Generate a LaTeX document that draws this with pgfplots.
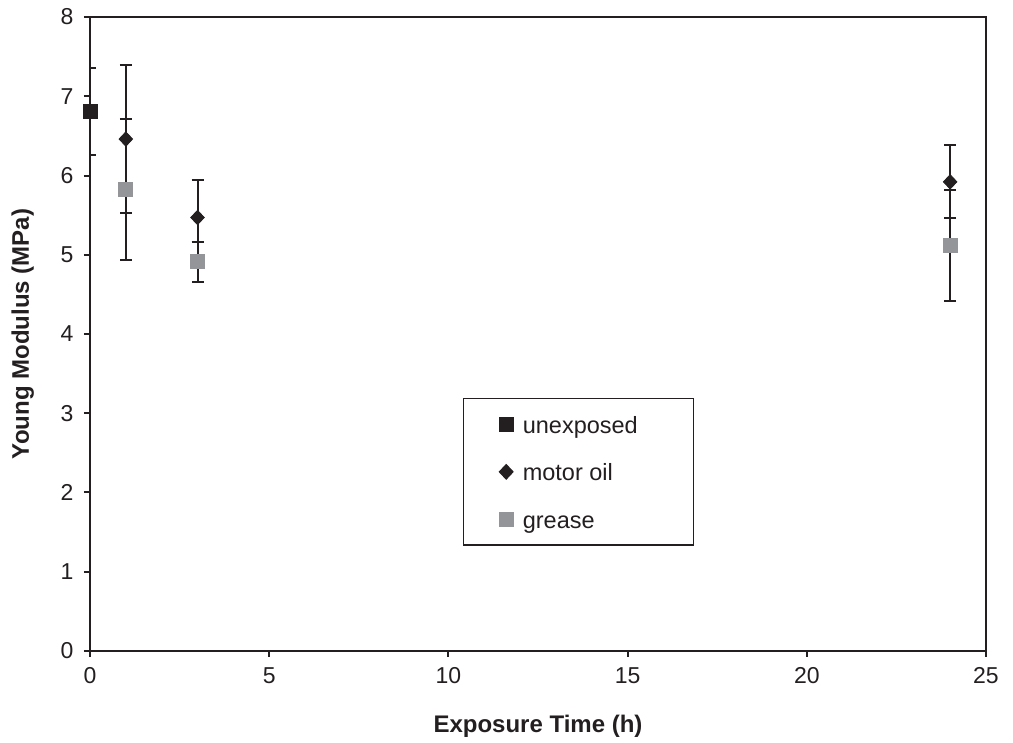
\documentclass[border=0pt]{standalone}
\usepackage{fontspec}
\setmainfont{Liberation Sans}
\usepackage{pgfplots}
\pgfplotsset{compat=1.18}
\definecolor{dark}{RGB}{35,31,32}
\definecolor{lgrey}{RGB}{147,149,152}
\newcommand{\lentry}[1]{\makebox[83.5pt][l]{\rule[-3.5pt]{0pt}{14pt}#1}}
\begin{document}
\begin{tikzpicture}
\useasboundingbox (-45pt,-46pt) rectangle (461.5pt,325.5pt);
\begin{axis}[
  at={(0pt,0pt)}, anchor=south west,
  scale only axis, width=448pt, height=317pt,
  xmin=0, xmax=25, ymin=0, ymax=8,
  xtick={0,5,10,15,20,25}, ytick={0,1,2,3,4,5,6,7,8},
  tick align=outside, tick pos=left,
  major tick length=3pt,
  tick style={dark, line width=1pt},
  axis line style={dark, line width=1pt},
  /pgf/number format/assume math mode=true,
  ticklabel style={font=\fontsize{11.5}{13}\selectfont, text=dark},
  xticklabel style={yshift=-1.7pt},
  yticklabel style={xshift=-1.7pt},
  xlabel={\textbf{Exposure Time (h)}},
  ylabel={\textbf{Young Modulus (MPa)}},
  label style={font=\fontsize{12}{14}\selectfont, text=dark},
  xlabel style={at={(axis description cs:0.5,0)}, anchor=base, yshift=-41pt},
  ylabel style={at={([xshift=-30.5pt]axis description cs:0,0.5)}, anchor=base, rotate=0},
  legend style={at={(axis description cs:0.4163,0.399)}, anchor=north west,
    draw=dark, line width=0.6pt, font=\fontsize{11.75}{14}\selectfont,
    inner xsep=0pt, inner ysep=4.9pt, row sep=7.7pt, text=dark},
  legend cell align=left,
  legend image code/.code={\path (-21pt,0pt) (6pt,0pt); \draw plot coordinates {(0pt,0pt)};},
]
\addplot[only marks, mark=square*, mark size=3.5pt, dark, mark options={dark, fill=dark},
  error bars/.cd, y dir=both, y explicit,
  error bar style={line width=1pt, dark},
  error mark options={rotate=90, mark size=3pt, line width=1pt, dark}]
  coordinates {(0,6.81) +- (0,0.545)};
\addlegendentry{\lentry{unexposed}}
\addplot[only marks, mark=diamond*, mark size=3.6pt, dark, mark options={dark, fill=dark, xscale=1.25},
  error bars/.cd, y dir=both, y explicit,
  error bar style={line width=1pt, dark},
  error mark options={rotate=90, mark size=3pt, line width=1pt, dark, xscale=1}]
  coordinates {(1,6.46) +- (0,0.93) (3,5.47) +- (0,0.47) (24,5.92) +- (0,0.46)};
\addlegendentry{\lentry{motor oil}}
\addplot[only marks, mark=square*, mark size=3.5pt, lgrey, mark options={lgrey, fill=lgrey},
  error bars/.cd, y dir=both, y explicit,
  error bar style={line width=1pt, dark},
  error mark options={rotate=90, mark size=3pt, line width=1pt, dark}]
  coordinates {(1,5.82) +- (0,0.89) (3,4.91) +- (0,0.25) (24,5.12) +- (0,0.70)};
\addlegendentry{\lentry{grease}}
\end{axis}
\end{tikzpicture}
\end{document}
